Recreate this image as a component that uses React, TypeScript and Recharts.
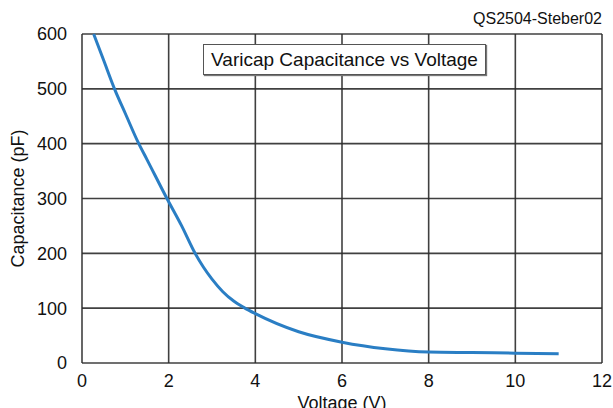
import React from 'react';
import { LineChart, Line, XAxis, YAxis, CartesianGrid, Label } from 'recharts';

const voltage = [0.27, 0.5, 0.75, 1.0, 1.31, 1.5, 1.96, 2.3, 2.61, 2.8, 3.0, 3.25, 3.5, 3.74, 4.0, 5.0, 6.0, 7.0, 8.0, 9.0, 10.0, 11.0];
const capacitance = [600, 552, 500, 455, 400, 371, 300, 250, 200, 175, 153, 130, 113, 101, 90, 57, 38, 26, 20, 19, 18, 17];
const xTicks = [0, 2, 4, 6, 8, 10, 12];
const yTicks = [0, 100, 200, 300, 400, 500, 600];

const data = voltage.map((v, i) => ({ v, c: capacitance[i] }));

const font = '"Liberation Sans", Arial, sans-serif';

export default function App() {
  return (
    <div style={{ position: 'absolute', left: 0, top: 0, width: 613, height: 408, background: '#fff', fontFamily: font, overflow: 'hidden' }}>
      <LineChart
        width={613}
        height={408}
        data={data}
        margin={{ top: 34, right: 11, bottom: 5, left: 22 }}
      >
        <CartesianGrid stroke="#2b2b2b" strokeWidth={1.6} strokeOpacity={0.9} />
        <XAxis
          type="number"
          dataKey="v"
          domain={[0, 12]}
          ticks={xTicks}
          interval={0}
          height={40}
          axisLine={false}
          tickLine={false}
          tickMargin={5}
          tick={{ fill: '#111', fontSize: 18, fontFamily: font }}
        >
          <Label value="Voltage (V)" position="insideBottom" offset={-6} fill="#111" fontSize={18} fontFamily={font} />
        </XAxis>
        <YAxis
          type="number"
          domain={[0, 600]}
          ticks={yTicks}
          interval={0}
          width={60}
          axisLine={false}
          tickLine={false}
          tickMargin={9}
          tick={{ fill: '#111', fontSize: 18, fontFamily: font }}
        >
          <Label value="Capacitance (pF)" angle={-90} position="insideLeft" offset={-4} fill="#111" fontSize={18} fontFamily={font} style={{ textAnchor: 'middle' }} />
        </YAxis>
        <Line
          type="monotone"
          dataKey="c"
          stroke="#2a7ec4"
          strokeWidth={3}
          dot={false}
          isAnimationActive={false}
        />
      </LineChart>
      <div style={{ position: 'absolute', right: 11, top: 10, fontSize: 16, color: '#111' }}>QS2504-Steber02</div>
      <div
        style={{
          position: 'absolute',
          left: 203,
          top: 44,
          width: 283,
          height: 31,
          border: '1px solid #555',
          boxShadow: '1px 1px 1px #777',
          background: '#fff',
          fontSize: 19,
          color: '#111',
          display: 'flex',
          alignItems: 'center',
          justifyContent: 'center',
          boxSizing: 'border-box',
        }}
      >
        Varicap Capacitance vs Voltage
      </div>
    </div>
  );
}
